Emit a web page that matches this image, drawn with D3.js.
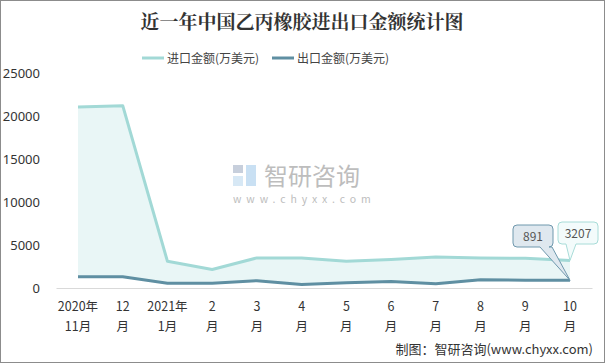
<!DOCTYPE html>
<html><head><meta charset="utf-8">
<script src="https://cdn.jsdelivr.net/npm/d3@7/dist/d3.min.js"></script>
<style>
html,body{margin:0;padding:0;background:#fff;}
svg{display:block;font-family:"Microsoft YaHei","Noto Sans CJK SC","Noto Sans",sans-serif;}
</style></head>
<body>
<svg id="c" width="605" height="364"></svg>
<script>
const categories = [["2020年","11月"],["12","月"],["2021年","1月"],["2","月"],["3","月"],["4","月"],["5","月"],["6","月"],["7","月"],["8","月"],["9","月"],["10","月"]];
const importValues = [21050, 21200, 3100, 2150, 3500, 3500, 3100, 3300, 3600, 3500, 3450, 3207];
const exportValues = [1300, 1300, 550, 550, 850, 400, 600, 750, 500, 950, 900, 891];
const yTicks = [0, 5000, 10000, 15000, 20000, 25000];
const seriesNames = ["进口金额(万美元)", "出口金额(万美元)"];
const title = "近一年中国乙丙橡胶进出口金额统计图";

const svg = d3.select("#c");
const W = 605, H = 364;
const impColor = "#a2d9d6", expColor = "#5f8fa2";

svg.append("rect").attr("x",0.5).attr("y",0.5).attr("width",W-1).attr("height",H-2)
  .attr("fill","#fff").attr("stroke","#8c8c8c").attr("stroke-width",1);

const x = d3.scalePoint().domain(d3.range(categories.length)).range([78, 570]);
const y = d3.scaleLinear().domain([0, 25000]).range([288, 73]);

// title
svg.append("text").attr("x", 302).attr("y", 29).attr("text-anchor","middle")
  .attr("font-size", 19).attr("font-weight","bold").attr("fill","#333")
  .attr("font-family",'"Noto Serif CJK SC","Noto Sans CJK SC",serif')
  .text(title);

// legend
const leg = [{x:142, c:impColor, t:seriesNames[0]}, {x:272, c:expColor, t:seriesNames[1]}];
leg.forEach(l=>{
  svg.append("line").attr("x1",l.x).attr("x2",l.x+22).attr("y1",58).attr("y2",58)
    .attr("stroke",l.c).attr("stroke-width",3);
  svg.append("text").attr("x",l.x+25).attr("y",62.5).attr("font-size",12).attr("fill","#444").text(l.t);
});

// watermark
const wm = svg.append("g").attr("opacity",0.55);
wm.append("rect").attr("x",233).attr("y",165).attr("width",10).attr("height",8).attr("fill","#9aa9c0");
wm.append("rect").attr("x",233).attr("y",176).attr("width",10).attr("height",10).attr("fill","#b8d6ee");
wm.append("rect").attr("x",246).attr("y",165).attr("width",10).attr("height",21).attr("fill","#9ec8ea");
wm.append("text").attr("x",264).attr("y",185).attr("font-size",24).attr("fill","#888").text("智研咨询");
wm.append("text").attr("x",233).attr("y",203).attr("font-size",10.5).attr("fill","#888")
  .attr("letter-spacing","4.9px").text("www.chyxx.com");

// area between
const area = d3.area().x((d,i)=>x(i)).y0((d,i)=>y(exportValues[i])).y1(d=>y(d));
svg.append("path").datum(importValues).attr("d",area).attr("fill","#e9f6f6");

// axis
const xAxis = svg.append("g").attr("transform","translate(0,288)")
  .call(d3.axisBottom(d3.scaleLinear().domain([0,1]).range([56,592])).tickValues([]).tickSize(0));
xAxis.select(".domain").attr("stroke","#d9d9d9");

const yAxis = svg.append("g").attr("transform","translate(40,0)")
  .call(d3.axisLeft(y).tickValues(yTicks).tickSize(0).tickPadding(0).tickFormat(d3.format("d")));
yAxis.select(".domain").remove();
yAxis.selectAll("text").attr("font-size",13).attr("fill","#333").attr("dy","0.35em")
  .attr("font-family",'"Microsoft YaHei","Noto Sans","DejaVu Sans",sans-serif');

// x labels
categories.forEach((c,i)=>{
  const t = svg.append("text").attr("x",x(i)).attr("text-anchor","middle").attr("font-size",12.5).attr("fill","#333");
  t.append("tspan").attr("x",x(i)).attr("y",311).text(c[0]);
  t.append("tspan").attr("x",x(i)).attr("y",331).text(c[1]);
});

// lines
const line = d3.line().x((d,i)=>x(i)).y(d=>y(d));
svg.append("path").datum(importValues).attr("d",line).attr("fill","none").attr("stroke",impColor).attr("stroke-width",3).attr("stroke-linejoin","round");
svg.append("path").datum(exportValues).attr("d",line).attr("fill","none").attr("stroke",expColor).attr("stroke-width",3).attr("stroke-linejoin","round");

// callouts
const last = categories.length-1;
function callout(bx, by, bw, bh, px, py, tipL, tipR, fill, stroke, txt){
  const p = d3.path();
  p.moveTo(bx+4, by); p.lineTo(bx+bw-4, by); p.quadraticCurveTo(bx+bw,by,bx+bw,by+4);
  p.lineTo(bx+bw, by+bh-4); p.quadraticCurveTo(bx+bw,by+bh,bx+bw-4,by+bh);
  p.lineTo(tipR, by+bh); p.lineTo(px, py); p.lineTo(tipL, by+bh);
  p.lineTo(bx+4, by+bh); p.quadraticCurveTo(bx,by+bh,bx,by+bh-4);
  p.lineTo(bx, by+4); p.quadraticCurveTo(bx,by,bx+4,by); p.closePath();
  svg.append("path").attr("d",p.toString()).attr("fill",fill).attr("stroke",stroke).attr("stroke-width",1);
  svg.append("text").attr("x",bx+bw/2).attr("y",by+bh/2+4.5).attr("text-anchor","middle")
    .attr("font-size",12).attr("fill","#555").text(txt);
}
callout(513, 225, 40, 22, x(last), y(exportValues[last]), 540, 552, "#dfe8ef", "#6f98ad", String(exportValues[last]));
callout(558, 222, 40, 22, x(last), y(importValues[last]), 566, 576, "#f3fbfb", "#a8dcd8", String(importValues[last]));

// credits
svg.append("text").attr("x",593).attr("y",354).attr("text-anchor","end").attr("font-size",13).attr("fill","#333")
  .text("制图：智研咨询(www.chyxx.com)");
</script>
</body></html>
